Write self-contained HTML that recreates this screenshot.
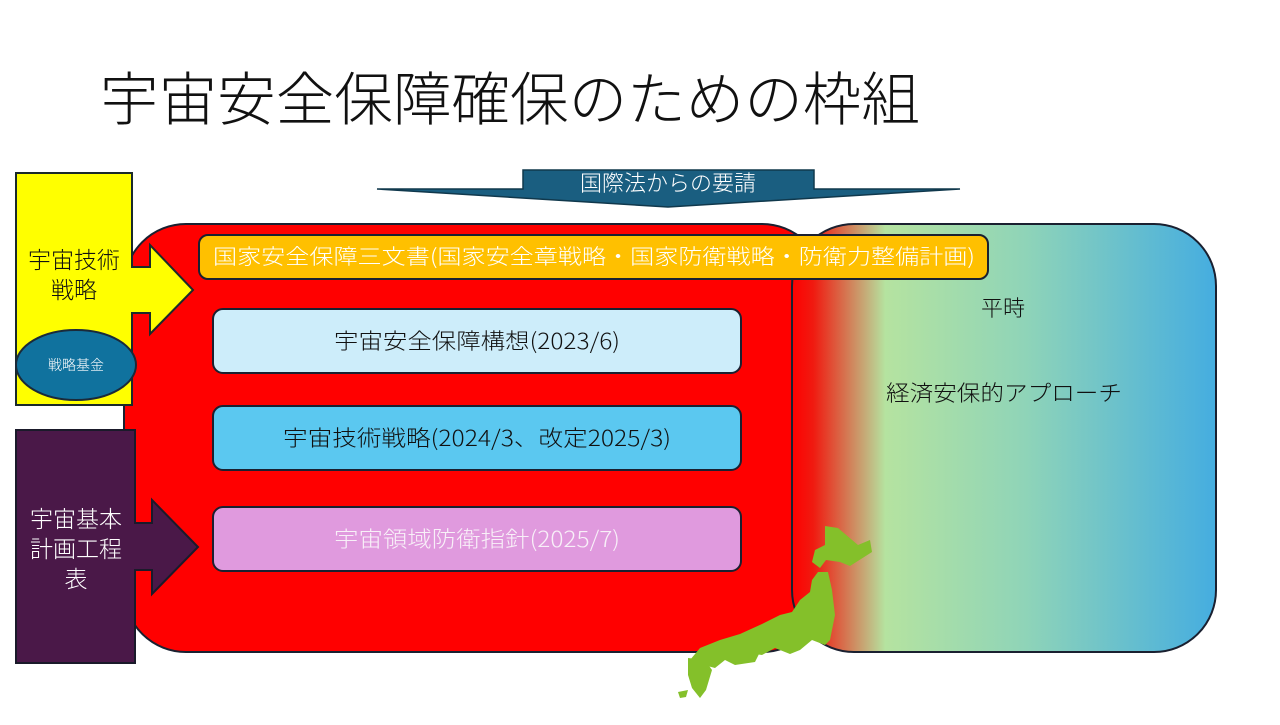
<!DOCTYPE html>
<html><head><meta charset="utf-8"><style>
html,body{margin:0;padding:0;background:#fff;}
svg text{font-family:"Noto Sans CJK JP","Liberation Sans",sans-serif;font-weight:300;}
</style></head><body>
<svg width="1280" height="720" viewBox="0 0 1280 720" xmlns="http://www.w3.org/2000/svg">
<defs>
<linearGradient id="g" x1="0" x2="1" y1="0" y2="0">
<stop offset="0" stop-color="#ff0000"/>
<stop offset="0.05" stop-color="#f01a10"/>
<stop offset="0.22" stop-color="#b5e3a0"/>
<stop offset="0.55" stop-color="#8fd4b8"/>
<stop offset="1" stop-color="#45ade0"/>
</linearGradient>
</defs>
<text x="100" y="120" font-size="58" fill="#111" textLength="820" lengthAdjust="spacingAndGlyphs">宇宙安全保障確保のための枠組</text>

<polygon points="523,170 814,170 814,189 960,189 668,207 377,189 523,189" fill="#1a5e80" stroke="#10384c" stroke-width="1.5"/>
<text x="668" y="191" font-size="22" fill="#fff" text-anchor="middle">国際法からの要請</text>

<rect x="124" y="224" width="700" height="428" rx="62" fill="#ff0000" stroke="#1a2030" stroke-width="2"/>
<rect x="792" y="224" width="424" height="428" rx="62" fill="url(#g)" stroke="#1a2030" stroke-width="2"/>
<text x="1003" y="316" font-size="22" fill="#111" text-anchor="middle">平時</text>
<text x="1004" y="401" font-size="22" fill="#111" text-anchor="middle" textLength="236" lengthAdjust="spacingAndGlyphs">経済安保的アプローチ</text>

<polygon points="16,173 132,173 132,267 150,267 150,245 193,290 150,334 150,313 132,313 132,405 16,405" fill="#ffff00" stroke="#1a2a2a" stroke-width="2"/>
<text x="74" y="268" font-size="23" fill="#111" text-anchor="middle">宇宙技術</text>
<text x="74" y="298" font-size="23" fill="#111" text-anchor="middle">戦略</text>
<ellipse cx="76" cy="365" rx="60" ry="35" fill="#10729e" stroke="#1a2a3a" stroke-width="2"/>
<text x="76" y="370" font-size="14" fill="#fff" text-anchor="middle">戦略基金</text>

<polygon points="16,430 135,430 135,523 152,523 152,500 198,547 152,594 152,570 135,570 135,663 16,663" fill="#4a1848" stroke="#1a1a2a" stroke-width="2"/>
<text x="76" y="527" font-size="23" fill="#fff" text-anchor="middle">宇宙基本</text>
<text x="76" y="557" font-size="23" fill="#fff" text-anchor="middle">計画工程</text>
<text x="76" y="587" font-size="23" fill="#fff" text-anchor="middle">表</text>

<rect x="199" y="235" width="789" height="44" rx="9" fill="#ffc000" stroke="#1a2030" stroke-width="2"/>
<text x="594" y="264" font-size="21" fill="#fff" text-anchor="middle" textLength="762" lengthAdjust="spacingAndGlyphs">国家安全保障三文書(国家安全章戦略・国家防衛戦略・防衛力整備計画)</text>

<rect x="213" y="309" width="528" height="64" rx="10" fill="#cdedfa" stroke="#1a2030" stroke-width="2"/>
<text x="477" y="349" font-size="22" fill="#111" text-anchor="middle" textLength="286" lengthAdjust="spacingAndGlyphs">宇宙安全保障構想(2023/6)</text>
<rect x="213" y="406" width="528" height="64" rx="10" fill="#5bc8f0" stroke="#1a2030" stroke-width="2"/>
<text x="477" y="446" font-size="22" fill="#111" text-anchor="middle" textLength="388" lengthAdjust="spacingAndGlyphs">宇宙技術戦略(2024/3、改定2025/3)</text>
<rect x="213" y="507" width="528" height="64" rx="10" fill="#e09ade" stroke="#1a2030" stroke-width="2"/>
<text x="477" y="547" font-size="22" fill="#f8f0f8" text-anchor="middle" textLength="286" lengthAdjust="spacingAndGlyphs">宇宙領域防衛指針(2025/7)</text>

<g fill="#84c02a">
<polygon points="825,526 838,528 858,545 870,540 872,552 850,566 840,562 826,560 820,568 812,562 815,550 825,545"/>
<polygon points="818,572 828,572 832,590 835,615 830,640 825,645 812,640 800,650 790,654 775,648 762,655 740,652 725,660 715,668 700,664 690,660 700,648 720,640 740,634 762,624 780,615 792,612 800,600 810,592 812,580"/>
<polygon points="688,658 705,660 712,670 706,690 700,698 692,688 688,675"/>
<polygon points="724,650 760,652 755,662 735,665 725,660"/>
<polygon points="678,692 688,690 686,697 680,698"/>
</g>
</svg>
</body></html>
